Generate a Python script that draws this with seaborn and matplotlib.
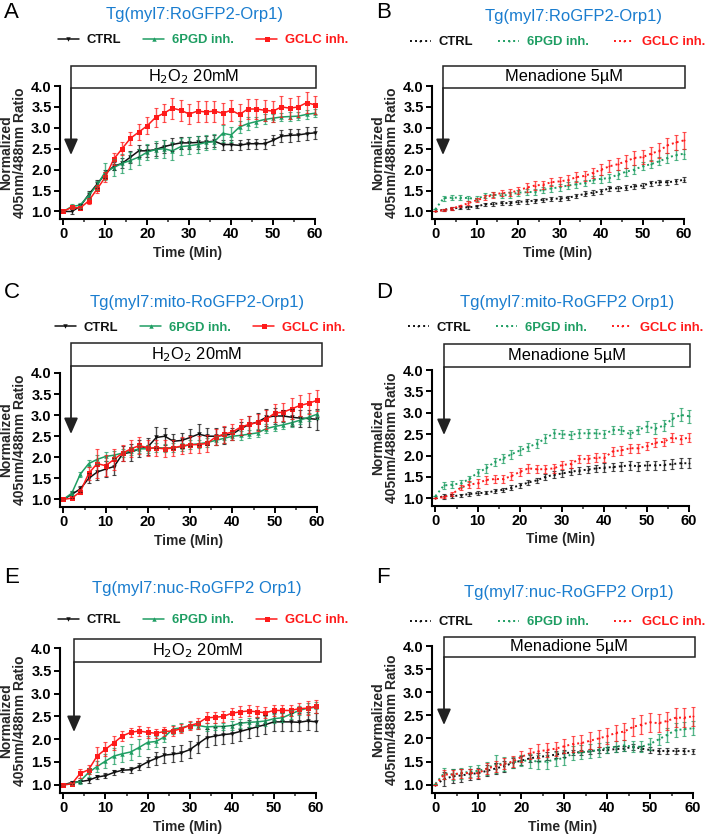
import matplotlib
matplotlib.use("Agg")
import matplotlib.pyplot as plt
import numpy as np
import pandas as pd
import seaborn as sns
from matplotlib.patches import Rectangle

# time points (min)
time = list(range(0, 61, 2))
series = ["CTRL", "6PGD inh.", "GCLC inh."]

# --- panel A: RoGFP2-Orp1, H2O2 ---
a_ctrl = [1.0, 1.0, 1.12, 1.4, 1.65, 1.9, 2.08, 2.15, 2.3, 2.45, 2.45, 2.48, 2.55, 2.6, 2.64, 2.64,
          2.65, 2.66, 2.68, 2.6, 2.6, 2.58, 2.62, 2.62, 2.62, 2.7, 2.8, 2.82, 2.83, 2.86, 2.88]
a_pgd = [1.0, 1.12, 1.15, 1.38, 1.62, 1.95, 2.05, 2.15, 2.22, 2.3, 2.42, 2.48, 2.5, 2.45, 2.55, 2.57,
         2.6, 2.65, 2.67, 2.87, 2.83, 3.02, 3.1, 3.15, 3.2, 3.23, 3.26, 3.27, 3.28, 3.32, 3.35]
a_gclc = [1.0, 1.1, 1.08, 1.25, 1.53, 1.82, 2.25, 2.5, 2.75, 2.9, 3.05, 3.25, 3.35, 3.47, 3.42, 3.33,
          3.4, 3.38, 3.4, 3.35, 3.42, 3.32, 3.45, 3.45, 3.42, 3.4, 3.5, 3.47, 3.5, 3.6, 3.55]
a_ctrl_err = [0, .05, .06, .08, .1, .1, .1, .12, .15, .15, .15, .15, .15, .15, .15, .15,
              .15, .15, .15, .12, .12, .12, .12, .12, .12, .12, .15, .15, .15, .15, .15]
a_pgd_err = [0, .06, .06, .08, .1, .2, .2, .22, .2, .2, .2, .2, .22, .22, .2, .2,
             .2, .18, .18, .2, .18, .15, .15, .12, .12, .1, .1, .1, .1, .1, .1]
a_gclc_err = [0, .05, .05, .08, .1, .12, .15, .15, .15, .18, .2, .22, .22, .25, .25, .25,
              .25, .25, .25, .25, .25, .25, .25, .25, .25, .25, .25, .25, .25, .25, .22]

# --- panel B: RoGFP2-Orp1, menadione ---
b_ctrl = [1.0, 1.04, 1.07, 1.09, 1.1, 1.12, 1.17, 1.18, 1.2, 1.2, 1.23, 1.24, 1.26, 1.28, 1.3, 1.31,
          1.33, 1.37, 1.42, 1.45, 1.48, 1.56, 1.55, 1.57, 1.6, 1.62, 1.68, 1.7, 1.7, 1.72, 1.76]
b_pgd = [1.05, 1.32, 1.33, 1.33, 1.32, 1.3, 1.38, 1.4, 1.38, 1.4, 1.45, 1.46, 1.47, 1.52, 1.55, 1.58,
         1.62, 1.65, 1.68, 1.76, 1.78, 1.8, 1.88, 1.95, 2.0, 2.08, 2.13, 2.2, 2.28, 2.35, 2.38]
b_gclc = [1.0, 1.03, 1.07, 1.13, 1.2, 1.27, 1.33, 1.4, 1.44, 1.45, 1.5, 1.57, 1.62, 1.64, 1.7, 1.72,
          1.75, 1.82, 1.85, 1.92, 2.0, 2.08, 2.13, 2.2, 2.28, 2.3, 2.38, 2.45, 2.58, 2.65, 2.7]
b_ctrl_err = [0, .03, .03, .03, .04, .04, .04, .04, .05, .05, .05, .05, .05, .05, .05, .05,
              .05, .05, .06, .06, .06, .06, .06, .06, .06, .06, .06, .06, .06, .06, .06]
b_pgd_err = [0, .06, .06, .06, .06, .06, .06, .06, .06, .07, .07, .07, .07, .07, .08, .08,
             .08, .08, .08, .08, .1, .1, .1, .1, .1, .1, .1, .1, .12, .12, .12]
b_gclc_err = [0, .02, .03, .03, .04, .05, .06, .07, .08, .08, .09, .1, .1, .1, .1, .1,
              .12, .12, .12, .13, .13, .14, .15, .15, .16, .17, .17, .18, .18, .18, .2]

# --- panel C: mito-RoGFP2-Orp1, H2O2 ---
c_ctrl = [1.0, 1.12, 1.25, 1.5, 1.65, 1.72, 1.78, 2.08, 2.12, 2.2, 2.25, 2.47, 2.5, 2.38, 2.4, 2.47,
          2.55, 2.5, 2.5, 2.52, 2.55, 2.68, 2.78, 2.84, 2.95, 2.98, 2.98, 2.95, 2.93, 2.92, 2.9]
c_pgd = [1.0, 1.15, 1.6, 1.85, 1.95, 2.02, 2.05, 2.1, 2.15, 2.2, 2.2, 2.23, 2.22, 2.23, 2.25, 2.3,
         2.32, 2.35, 2.4, 2.45, 2.5, 2.52, 2.55, 2.58, 2.68, 2.73, 2.77, 2.82, 2.88, 2.95, 3.02]
c_gclc = [1.0, 1.03, 1.18, 1.62, 1.85, 1.8, 1.95, 2.1, 2.2, 2.28, 2.22, 2.22, 2.2, 2.22, 2.27, 2.3,
          2.3, 2.33, 2.48, 2.55, 2.6, 2.72, 2.78, 2.83, 2.9, 3.05, 3.07, 3.15, 3.23, 3.28, 3.35]
c_ctrl_err = [0, .08, .08, .12, .2, .18, .2, .18, .2, .2, .2, .25, .2, .18, .18, .2,
              .25, .2, .2, .2, .15, .15, .2, .2, .2, .2, .15, .2, .2, .2, .25]
c_pgd_err = [0, .05, .06, .08, .1, .1, .1, .1, .1, .1, .1, .1, .1, .1, .1, .1,
             .1, .1, .1, .1, .1, .1, .1, .1, .1, .1, .1, .1, .1, .1, .1]
c_gclc_err = [0, .03, .06, .15, .35, .25, .25, .2, .2, .2, .2, .2, .2, .2, .2, .2,
              .2, .2, .2, .2, .2, .2, .2, .2, .22, .22, .22, .25, .25, .25, .25]

# --- panel D: mito-RoGFP2-Orp1, menadione ---
d_ctrl = [1.0, 1.05, 1.05, 1.07, 1.1, 1.12, 1.13, 1.17, 1.2, 1.25, 1.3, 1.37, 1.42, 1.5, 1.55, 1.58,
          1.62, 1.65, 1.67, 1.7, 1.72, 1.73, 1.75, 1.77, 1.75, 1.77, 1.77, 1.78, 1.8, 1.82, 1.82]
d_pgd = [1.05, 1.3, 1.32, 1.35, 1.45, 1.6, 1.7, 1.85, 1.93, 2.03, 2.12, 2.2, 2.28, 2.4, 2.52, 2.5,
         2.48, 2.52, 2.52, 2.52, 2.5, 2.6, 2.6, 2.5, 2.6, 2.68, 2.63, 2.7, 2.85, 2.95, 2.92]
d_gclc = [1.0, 1.03, 1.1, 1.25, 1.32, 1.35, 1.43, 1.45, 1.45, 1.52, 1.62, 1.7, 1.68, 1.68, 1.7, 1.78,
          1.8, 1.92, 1.92, 1.95, 1.95, 2.1, 2.12, 2.17, 2.17, 2.22, 2.3, 2.32, 2.42, 2.38, 2.42]
d_ctrl_err = [0, .06, .05, .04, .04, .04, .04, .05, .05, .05, .05, .06, .06, .07, .08, .08,
              .08, .08, .08, .08, .1, .1, .1, .1, .1, .1, .1, .12, .12, .12, .12]
d_pgd_err = [0, .08, .08, .08, .08, .08, .1, .1, .1, .1, .1, .1, .1, .1, .1, .1,
             .1, .1, .1, .1, .1, .1, .1, .1, .1, .12, .12, .12, .15, .15, .15]
d_gclc_err = [0, .03, .04, .05, .08, .1, .1, .1, .1, .1, .1, .1, .1, .1, .1, .1,
              .1, .1, .1, .1, .1, .1, .1, .1, .1, .1, .1, .1, .1, .1, .1]

# --- panel E: nuc-RoGFP2 Orp1, H2O2 ---
e_ctrl = [1.0, 1.05, 1.07, 1.1, 1.17, 1.2, 1.27, 1.32, 1.33, 1.4, 1.5, 1.58, 1.65, 1.67, 1.7, 1.77,
          1.9, 2.03, 2.07, 2.1, 2.12, 2.17, 2.22, 2.27, 2.32, 2.38, 2.38, 2.38, 2.37, 2.4, 2.38]
e_pgd = [1.0, 1.02, 1.08, 1.27, 1.4, 1.52, 1.63, 1.68, 1.72, 1.82, 1.93, 1.95, 2.05, 2.22, 2.25, 2.3,
         2.3, 2.27, 2.28, 2.28, 2.3, 2.35, 2.37, 2.38, 2.4, 2.45, 2.47, 2.55, 2.63, 2.68, 2.7]
e_gclc = [1.0, 1.02, 1.25, 1.33, 1.63, 1.78, 1.92, 2.07, 2.15, 2.18, 2.15, 2.13, 2.17, 2.18, 2.23, 2.3,
          2.35, 2.47, 2.48, 2.5, 2.57, 2.6, 2.62, 2.6, 2.58, 2.63, 2.63, 2.63, 2.67, 2.68, 2.72]
e_ctrl_err = [0, .03, .04, .05, .05, .05, .05, .05, .07, .07, .1, .15, .18, .18, .18, .18,
              .2, .2, .2, .2, .2, .2, .2, .2, .2, .2, .2, .2, .2, .2, .2]
e_pgd_err = [0, .03, .06, .1, .12, .15, .18, .18, .18, .18, .15, .12, .12, .1, .1, .08,
             .08, .08, .08, .08, .1, .1, .1, .1, .1, .1, .1, .1, .1, .12, .12]
e_gclc_err = [0, .03, .1, .1, .2, .15, .15, .12, .1, .12, .12, .1, .1, .1, .1, .1,
              .12, .12, .12, .12, .12, .12, .12, .12, .12, .12, .12, .12, .12, .15, .15]

# --- panel F: nuc-RoGFP2 Orp1, menadione ---
f_ctrl = [1.0, 1.12, 1.18, 1.2, 1.23, 1.25, 1.3, 1.35, 1.4, 1.47, 1.52, 1.57, 1.6, 1.62, 1.65, 1.68,
          1.7, 1.7, 1.72, 1.75, 1.75, 1.77, 1.78, 1.82, 1.78, 1.75, 1.73, 1.73, 1.73, 1.73, 1.72]
f_pgd = [1.02, 1.25, 1.22, 1.25, 1.28, 1.3, 1.35, 1.45, 1.45, 1.48, 1.52, 1.52, 1.5, 1.5, 1.55, 1.57,
         1.68, 1.7, 1.72, 1.75, 1.8, 1.82, 1.85, 1.82, 1.82, 1.88, 1.98, 2.08, 2.18, 2.2, 2.22]
f_gclc = [1.0, 1.22, 1.22, 1.25, 1.25, 1.25, 1.35, 1.4, 1.45, 1.5, 1.6, 1.68, 1.72, 1.75, 1.78, 1.83,
          1.88, 1.9, 1.95, 2.0, 2.05, 2.12, 2.15, 2.25, 2.3, 2.35, 2.33, 2.38, 2.45, 2.45, 2.48]
f_ctrl_err = [0, .15, .15, .15, .12, .12, .12, .12, .12, .1, .1, .08, .08, .08, .08, .08,
              .06, .06, .06, .06, .06, .06, .06, .06, .06, .06, .06, .06, .06, .06, .06]
f_pgd_err = [0, .12, .12, .12, .12, .12, .15, .2, .15, .12, .12, .15, .15, .15, .15, .15,
             .15, .15, .15, .15, .12, .12, .12, .12, .12, .12, .12, .15, .15, .15, .15]
f_gclc_err = [0, .1, .1, .1, .1, .1, .12, .12, .12, .12, .12, .12, .15, .15, .15, .15,
              .18, .18, .18, .18, .18, .18, .18, .2, .2, .2, .2, .2, .2, .2, .2]

titles = ["Tg(myl7:RoGFP2-Orp1)", "Tg(myl7:RoGFP2-Orp1)", "Tg(myl7:mito-RoGFP2-Orp1)",
          "Tg(myl7:mito-RoGFP2 Orp1)", "Tg(myl7:nuc-RoGFP2 Orp1)", "Tg(myl7:nuc-RoGFP2 Orp1)"]
treatments = ["H$_2$O$_2$ 20mM", "Menadione 5µM"] * 3
letters = ["A", "B", "C", "D", "E", "F"]

palette = {"CTRL": "#111111", "6PGD inh.": "#1f9e63", "GCLC inh.": "#ff1a1a"}
markers = {"CTRL": "v", "6PGD inh.": "^", "GCLC inh.": "s"}

W, H = 714, 835
sns.set_theme(style="ticks")
plt.rcParams["font.family"] = ["Liberation Sans", "DejaVu Sans"]
fig = plt.figure(figsize=(W / 100, H / 100), dpi=100)


def fx(x):
    return x / W


def fy(y):
    return 1 - y / H


# layout in pixels: axes (left, right, top, bottom), box (x0, x1, y0, y1), arrow tip y,
# title (x, y), legend anchor (x, y, loc), letter (x, y)
layout = [
    dict(ax=(60, 315, 86, 219), box=(71, 316, 66, 88), tip=155, title=(195, 15), leg=(203, 40, "center"), let=(4, 2)),
    dict(ax=(432, 684, 86, 219), box=(443, 685, 66, 88), tip=155, title=(574, 17), leg=(712, 42, "center right"), let=(376, 2)),
    dict(ax=(60, 317, 373, 507), box=(71, 322, 343, 366), tip=434, title=(197, 302), leg=(200, 328, "center"), let=(4, 282)),
    dict(ax=(432, 689, 370, 506), box=(444, 690, 344, 367), tip=435, title=(567, 302), leg=(710, 328, "center right"), let=(376, 282)),
    dict(ax=(60, 316, 648, 793), box=(74, 321, 639, 662), tip=732, title=(197, 588), leg=(203, 620, "center"), let=(4, 567)),
    dict(ax=(432, 693, 646, 793), box=(444, 695, 637, 657), tip=725, title=(569, 593), leg=(712, 622, "center right"), let=(376, 567)),
]

panels = [
    (a_ctrl, a_pgd, a_gclc, a_ctrl_err, a_pgd_err, a_gclc_err),
    (b_ctrl, b_pgd, b_gclc, b_ctrl_err, b_pgd_err, b_gclc_err),
    (c_ctrl, c_pgd, c_gclc, c_ctrl_err, c_pgd_err, c_gclc_err),
    (d_ctrl, d_pgd, d_gclc, d_ctrl_err, d_pgd_err, d_gclc_err),
    (e_ctrl, e_pgd, e_gclc, e_ctrl_err, e_pgd_err, e_gclc_err),
    (f_ctrl, f_pgd, f_gclc, f_ctrl_err, f_pgd_err, f_gclc_err),
]

for i, (vals, lay) in enumerate(zip(panels, layout)):
    dotted = i % 2 == 1
    l, r, t, b = lay["ax"]
    ax = fig.add_axes([fx(l), fy(b), fx(r - l), (b - t) / H])

    frames = []
    for name, v, e in zip(series, vals[:3], vals[3:]):
        frames.append(pd.DataFrame({"time": time, "ratio": v, "err": e, "series": name}))
    df = pd.concat(frames, ignore_index=True)

    ls = (0, (1, 1.6)) if dotted else "-"
    sns.lineplot(data=df, x="time", y="ratio", hue="series", hue_order=series, palette=palette,
                 linewidth=1.1 if not dotted else 1.4, linestyle=ls,
                 marker=None, legend=False, ax=ax, clip_on=False)
    handles = ax.get_lines()[:3]
    for h, name in zip(handles, series):
        if not dotted:
            h.set_marker(markers[name])
            h.set_markersize(3.2 if name != "GCLC inh." else 3.6)
        else:
            h.set_marker("o")
            h.set_markersize(1.4)
        h.set_markeredgewidth(0)

    for name in series:
        sub = df[df["series"] == name]
        ax.errorbar(sub["time"], sub["ratio"], yerr=sub["err"], fmt="none",
                    ecolor=palette[name], alpha=0.75, elinewidth=1.0, capsize=1.3,
                    capthick=0.8, clip_on=False)

    ax.set_xlim(-0.8, 60)
    ax.set_ylim(0.82, 4.0)
    ax.set_xticks(range(0, 61, 10))
    ax.set_xticks(range(5, 60, 10), minor=True)
    ax.set_yticks(np.arange(1.0, 4.01, 0.5))
    ax.set_yticklabels([f"{v:.1f}" for v in np.arange(1.0, 4.01, 0.5)])
    for s in ["top", "right"]:
        ax.spines[s].set_visible(False)
    for s in ["left", "bottom"]:
        ax.spines[s].set_linewidth(1.5)
        ax.spines[s].set_color("black")
    ax.tick_params(which="major", length=4, width=1.4, labelsize=10.5, pad=2, colors="black")
    ax.tick_params(which="minor", length=2.5, width=1.1)
    for lab in ax.get_xticklabels() + ax.get_yticklabels():
        lab.set_fontweight("bold")
    ax.set_xlabel("Time (Min)", fontsize=10, fontweight="bold", labelpad=3)
    ax.set_ylabel("Normalized\n405nm/488nm Ratio", fontsize=10, fontweight="bold",
                  labelpad=3, linespacing=1.0)
    ax.set_facecolor("none")

    # treatment box and arrow
    x0, x1, y0, y1 = lay["box"]
    fig.add_artist(Rectangle((fx(x0), fy(y1)), fx(x1 - x0), (y1 - y0) / H, transform=fig.transFigure,
                             fill=False, edgecolor="#222222", linewidth=1.1))
    fig.text(fx((x0 + x1) / 2), fy((y0 + y1) / 2), treatments[i], ha="center", va="center",
             fontsize=11.8, color="black")
    ax.annotate("", xy=(fx(x0), fy(lay["tip"])), xytext=(fx(x0), fy(y1)),
                xycoords="figure fraction", textcoords="figure fraction",
                arrowprops=dict(arrowstyle="-|>,head_length=0.8,head_width=0.35",
                                mutation_scale=12, lw=1.3, color="#222222",
                                shrinkA=0, shrinkB=0))

    # title, legend, letter
    fig.text(fx(lay["title"][0]), fy(lay["title"][1]), titles[i], ha="center", va="center",
             fontsize=12, color="#1a7dcf")
    lx, ly, lloc = lay["leg"]
    leg = ax.legend(handles, series, ncol=3, loc=lloc,
                    bbox_to_anchor=(fx(lx), fy(ly)),
                    bbox_transform=fig.transFigure, frameon=False,
                    prop=dict(weight="bold", size=9.4), handlelength=1.6,
                    handletextpad=0.6, columnspacing=1.7 if not dotted else 1.9, borderpad=0)
    for txt, name in zip(leg.get_texts(), series):
        txt.set_color(palette[name])
    fig.text(fx(lay["let"][0]), fy(lay["let"][1]), letters[i], ha="left", va="top",
             fontsize=16, color="black")

fig.savefig("out.png", dpi=100)
